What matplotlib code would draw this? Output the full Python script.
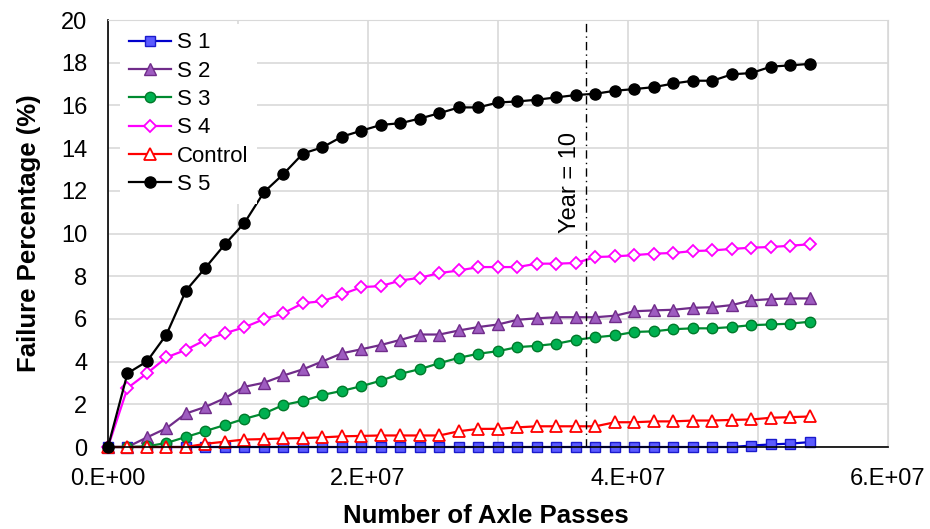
import numpy as np
import matplotlib
matplotlib.use("Agg")
from matplotlib import pyplot as plt
from matplotlib.ticker import FuncFormatter, MultipleLocator

plt.rcParams['font.family'] = ['Liberation Sans', 'DejaVu Sans']

# ejes: pasadas de eje cada 1.5e6
passes = np.arange(37) * 1.5e6
year10 = 3.675e7

s1 = [0, 0, 0, 0, 0, 0, 0, 0, 0, 0, 0, 0, 0, 0, 0, 0, 0, 0, 0, 0,
      0, 0, 0, 0, 0, 0, 0, 0, 0, 0, 0, 0, 0, 0.07, 0.12, 0.16, 0.23]
s2 = [0, 0, 0.45, 0.88, 1.57, 1.88, 2.29, 2.82, 3.01, 3.35, 3.64, 4.01,
      4.39, 4.58, 4.78, 5.02, 5.27, 5.27, 5.46, 5.62, 5.74, 5.96, 6.03,
      6.08, 6.08, 6.08, 6.15, 6.36, 6.40, 6.43, 6.52, 6.55, 6.65, 6.87,
      6.93, 6.96, 6.96]
s3 = [0, 0, 0.03, 0.19, 0.47, 0.75, 1.03, 1.32, 1.57, 1.97, 2.16, 2.44,
      2.63, 2.85, 3.11, 3.43, 3.65, 3.93, 4.18, 4.37, 4.49, 4.68, 4.74,
      4.84, 5.02, 5.14, 5.23, 5.39, 5.42, 5.52, 5.56, 5.56, 5.62, 5.71,
      5.74, 5.78, 5.87]
s4 = [0, 2.76, 3.45, 4.20, 4.55, 5.02, 5.33, 5.61, 5.99, 6.27, 6.74, 6.83,
      7.15, 7.49, 7.54, 7.80, 7.93, 8.15, 8.27, 8.43, 8.43, 8.43, 8.59,
      8.59, 8.62, 8.90, 8.93, 8.99, 9.06, 9.09, 9.18, 9.21, 9.28, 9.34,
      9.37, 9.43, 9.50]
control = [0, 0, 0, 0, 0, 0.15, 0.25, 0.35, 0.37, 0.40, 0.42, 0.45, 0.50,
           0.52, 0.54, 0.54, 0.54, 0.54, 0.74, 0.85, 0.85, 0.92, 0.97, 0.97,
           0.97, 0.97, 1.16, 1.16, 1.20, 1.20, 1.24, 1.24, 1.27, 1.29, 1.37,
           1.40, 1.43]
s5 = [0, 3.45, 4.01, 5.27, 7.33, 8.40, 9.50, 10.50, 11.94, 12.79, 13.75,
      14.04, 14.54, 14.82, 15.09, 15.17, 15.39, 15.64, 15.91, 15.91, 16.14,
      16.19, 16.27, 16.38, 16.49, 16.55, 16.69, 16.77, 16.86, 17.03, 17.16,
      17.16, 17.46, 17.52, 17.82, 17.88, 17.95]

fig = plt.figure(figsize=(9.3, 5.29), dpi=100)
ax = fig.add_axes([0.1161, 0.155, 0.8387, 0.807])

estilo = dict(lw=1.6, clip_on=False)
ax.plot(passes, s1, color="#0000cc", marker="s", ms=7,
        mfc="#5b5bff", mec="#1a1acc", label="S 1", **estilo)
ax.plot(passes, s2, color="#702c8a", marker="^", ms=8,
        mfc="#9e5cc0", mec="#702c8a", label="S 2", **estilo)
ax.plot(passes, s3, color="#008a30", marker="o", ms=7.5,
        mfc="#00b050", mec="#007a2a", label="S 3", **estilo)
ax.plot(passes, s4, color="#ff00ff", marker="D", ms=6.5,
        mfc="white", mec="#ff00ff", mew=1.3, label="S 4", **estilo)
ax.plot(passes, control, color="#ff0000", marker="^", ms=8,
        mfc="white", mec="#ff0000", mew=1.3, label="Control", **estilo)
ax.plot(passes, s5, color="black", marker="o", ms=8,
        mfc="black", mec="black", label="S 5", **estilo)

# linea del anio 10
ax.axvline(year10, color="black", lw=1, linestyle=(0, (6, 3, 1, 3)))
ax.text(year10 - 0.12e7, 12.4, "Year = 10", rotation=90, fontsize=17,
        ha="center", va="center")

ax.set_xlim(0, 6e7)
ax.set_ylim(0, 20)
ax.xaxis.set_major_locator(MultipleLocator(2e7))
ax.xaxis.set_minor_locator(MultipleLocator(1e7))
ax.yaxis.set_major_locator(MultipleLocator(2))
ax.xaxis.set_major_formatter(FuncFormatter(
    lambda v, p: "%d.E+%02d" % (round(v / 1e7), 7 if v else 0)))
ax.grid(True, which="both", color="#d9d9d9", lw=1.2)
ax.set_axisbelow(True)
ax.tick_params(which="both", length=0, labelsize=17)
ax.tick_params(axis="x", pad=15)
ax.tick_params(axis="y", pad=15)

for side in ["top", "right"]:
    ax.spines[side].set_color("#d9d9d9")
for side in ["left", "bottom"]:
    ax.spines[side].set_color("black")
    ax.spines[side].set_linewidth(1.2)

ax.set_xlabel("Number of Axle Passes", fontsize=18.5, fontweight="bold",
              labelpad=10, x=0.485)
ax.set_ylabel("Failure Percentage (%)", fontsize=18.5, fontweight="bold",
              labelpad=14)

leg = ax.legend(loc="upper left", bbox_to_anchor=(0.0155, 0.992),
                fontsize=16, frameon=True, framealpha=1,
                edgecolor="white", fancybox=False, handlelength=1.9,
                labelspacing=0.33, borderaxespad=0, borderpad=0.4,
                handletextpad=0.25)
leg.get_frame().set_linewidth(0)

fig.savefig("out.png", dpi=100)
